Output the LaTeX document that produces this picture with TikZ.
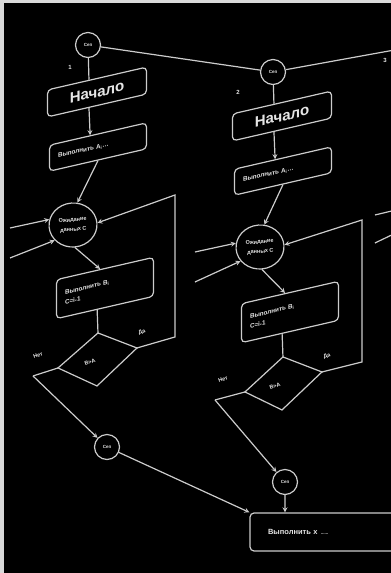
\documentclass[tikz,border=0pt]{standalone}
\usepackage{fontspec}
\setmainfont{Liberation Sans}
\usetikzlibrary{shapes.geometric,calc}
\begin{document}
\begin{tikzpicture}[scale=0.03515,>=stealth,
	every node/.style={text=Txt},
	wire/.style={draw=Line, line width=1.2pt},
	sep/.style={circle, wire, minimum size=25pt, inner sep=0pt, font=\bfseries\fontsize{4.5}{5}\selectfont},
	startbox/.style={wire, rounded corners=4pt, yslant=0.23, minimum width=99pt, minimum height=27pt, inner sep=0pt, font=\bfseries\fontsize{15}{15}\selectfont},
	actbox/.style={wire, rounded corners=4pt, yslant=0.23, minimum width=97pt, inner sep=0pt, text width=80pt, align=left, font=\bfseries\fontsize{6.3}{10}\selectfont},
	waitnode/.style={ellipse, wire, minimum width=48pt, minimum height=44pt, inner sep=0pt, rotate=5, align=center, font=\bfseries\fontsize{5.5}{9.5}\selectfont},
	endbox/.style={wire, rounded corners=4pt, minimum width=196pt, minimum height=38pt, text width=160pt, inner xsep=18pt, align=left, font=\bfseries\fontsize{7.5}{8}\selectfont},
	lbl/.style={font=\bfseries\fontsize{5.5}{6}\selectfont, rotate=20}]
\colorlet{Line}{white!80!black}
\colorlet{Txt}{white!90!black}
%% Photo frame
\useasboundingbox (0,0) rectangle (391,-573);
\fill[white!85!black] (0,0) rectangle (391,-573);
\fill[black] (4,-3) rectangle (391,-573);
\clip (4,-3) rectangle (391,-573);
%% Top connectors
\node[sep] (s1) at (88,-45) {Сеп};
\node[sep] (s2) at (273,-72) {Сеп};
\coordinate (s3) at (400,-49);
\draw[wire] (s1) -- (s2) -- (s3);
\node[font=\bfseries\fontsize{6}{6}\selectfont] (k1) at (70,-67) {1};
\node[font=\bfseries\fontsize{6}{6}\selectfont] (k2) at (238,-92) {2};
\node[font=\bfseries\fontsize{6}{6}\selectfont] (k3) at (385,-60) {3};
%%%%%%%%%%%%%%%%
%% Process 1 %%
%%%%%%%%%%%%%%%%
\def\a{0}
\def\b{0}
\node[startbox] (n1) at (\a+97,\b-92) {Начало};
\node[actbox, minimum height=26pt] (a1) at (\a+98,\b-147) {Выполнить А\textsubscript{i}\ldots};
\node[waitnode] (e1) at (\a+73,\b-225) {Ожидание\\данных С};
\node[actbox, minimum height=39pt] (b1) at (\a+105,\b-288) {Выполнить В\textsubscript{i}\\С=i-1};
\coordinate (d1t) at (\a+98,\b-333);
\coordinate (d1r) at (\a+137,\b-348);
\coordinate (d1b) at (\a+97,\b-386);
\coordinate (d1l) at (\a+58,\b-368);
\draw[wire] (d1t) -- (d1r) -- (d1b) -- (d1l) -- cycle;
\node[lbl] (t1) at (\a+90,\b-362) {В>А};
\node[lbl] (no1) at (\a+38,\b-355) {Нет};
\node[lbl] (yes1) at (\a+142,\b-332) {Да};
%
\coordinate (i1a) at (\a+10,\b-228);
\coordinate (i1b) at (\a+10,\b-258);
\coordinate (l1a) at (\a+175,\b-337);
\coordinate (l1b) at (\a+175,\b-195);
\coordinate (nj1) at (\a+33,\b-376);
\draw[wire] (s1) -- ($(n1.north west)!.42!(n1.north east)$);
\draw[wire,->] ($(n1.south west)!.42!(n1.south east)$) -- ($(a1.north west)!.42!(a1.north east)$);
\draw[wire,->] (a1.south) -- (e1.74);
\draw[wire,->] (i1a) -- (e1.162);
\draw[wire,->] (i1b) -- (e1.215);
\draw[wire,->] (e1.south) -- ($(b1.north west)!.45!(b1.north east)$);
\draw[wire] ($(b1.south west)!.42!(b1.south east)$) -- (d1t);
\draw[wire,->] (d1r) -- (l1a) -- (l1b) -- (e1.east);
\draw[wire] (d1l) -- (nj1);
%%%%%%%%%%%%%%%%
%% Process 2 %%
%%%%%%%%%%%%%%%%
\def\a{185}
\def\b{-24}
\node[startbox] (n2) at (\a+97,\b-92) {Начало};
\node[actbox, minimum height=26pt] (a2) at (\a+98,\b-147) {Выполнить А\textsubscript{i}\ldots};
\node[waitnode] (e2) at (\a+75,\b-223) {Ожидание\\данных С};
\node[actbox, minimum height=39pt] (b2) at (\a+105,\b-288) {Выполнить В\textsubscript{i}\\С=i-1};
\coordinate (d2t) at (\a+98,\b-333);
\coordinate (d2r) at (\a+137,\b-348);
\coordinate (d2b) at (\a+97,\b-386);
\coordinate (d2l) at (\a+60,\b-368);
\draw[wire] (d2t) -- (d2r) -- (d2b) -- (d2l) -- cycle;
\node[lbl] (t2) at (\a+90,\b-362) {В>А};
\node[lbl] (no2) at (\a+38,\b-355) {Нет};
\node[lbl] (yes2) at (\a+142,\b-332) {Да};
%
\coordinate (i2a) at (\a+10,\b-228);
\coordinate (i2b) at (\a+10,\b-258);
\coordinate (l2a) at (\a+177,\b-338);
\coordinate (l2b) at (\a+177,\b-196);
\coordinate (nj2) at (\a+30,\b-376);
\draw[wire] (s2) -- ($(n2.north west)!.42!(n2.north east)$);
\draw[wire,->] ($(n2.south west)!.42!(n2.south east)$) -- ($(a2.north west)!.42!(a2.north east)$);
\draw[wire,->] (a2.south) -- (e2.74);
\draw[wire,->] (i2a) -- (e2.166);
\draw[wire,->] (i2b) -- (e2.211);
\draw[wire,->] (e2.south) -- ($(b2.north west)!.45!(b2.north east)$);
\draw[wire] ($(b2.south west)!.42!(b2.south east)$) -- (d2t);
\draw[wire,->] (d2r) -- (l2a) -- (l2b) -- (e2.east);
\draw[wire] (d2l) -- (nj2);
%% Process 3, only its inputs
\coordinate (i3a) at (375,-215);
\coordinate (i3b) at (375,-243);
\draw[wire] (i3a) -- (400,-209);
\draw[wire] (i3b) -- (400,-231);
%%%%%%%%%%%%%%%%
%% Merge %%
%%%%%%%%%%%%%%%%
\node[sep] (c1) at (107,-447) {Сеп};
\node[sep] (c2) at (285,-482) {Сеп};
\node[endbox] (x1) at (348,-532) {Выполнить х {\fontsize{4.5}{5}\selectfont\,......}};
\draw[wire,->] (nj1) -- (c1);
\draw[wire,->] (nj2) -- (c2);
\draw[wire,->] (c1) -- (x1.north west);
\draw[wire,->] (c2) -- (c2 |- x1.north);
\end{tikzpicture}
\end{document}
